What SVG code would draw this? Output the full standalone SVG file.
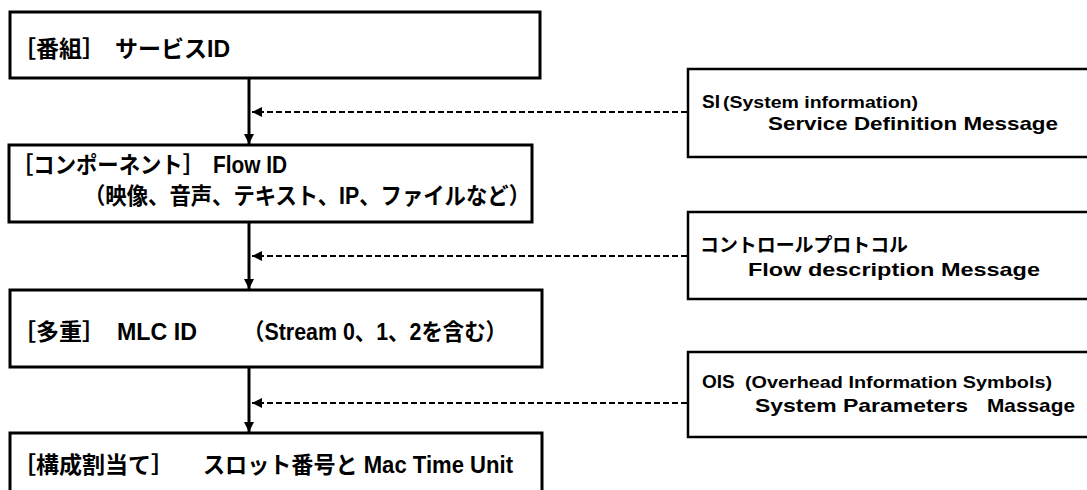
<svg xmlns="http://www.w3.org/2000/svg" width="1087" height="490" viewBox="0 0 1087 490">
<style>
.box{fill:#fff;stroke:#000;stroke-width:3}
.rbox{fill:#fff;stroke:#000;stroke-width:2.5}
.t{font-family:"Liberation Sans","Noto Sans CJK JP",sans-serif;font-weight:bold;font-size:23px;fill:#000}
.r{font-family:"Liberation Sans","Noto Sans CJK JP",sans-serif;font-weight:bold;font-size:19px;fill:#000}
.s{font-family:"Liberation Sans","Noto Sans CJK JP",sans-serif;font-weight:bold;font-size:16px;fill:#000}
.flow{stroke:#000;stroke-width:3;fill:none}
.dash{stroke:#000;stroke-width:2;stroke-dasharray:6,3;fill:none}
</style>
<defs>
<marker id="ah" viewBox="0 0 10 10" refX="10" refY="5" markerWidth="10" markerHeight="10" markerUnits="userSpaceOnUse" orient="auto">
<path d="M0,0 L10,5 L0,10 Z" fill="#000"/>
</marker>
</defs>
<g id="connectors">
<line class="flow" x1="249" y1="78" x2="249" y2="144" marker-end="url(#ah)"/>
<line class="flow" x1="249" y1="222" x2="249" y2="289" marker-end="url(#ah)"/>
<line class="flow" x1="249" y1="367" x2="249" y2="432" marker-end="url(#ah)"/>
<line class="dash" x1="687" y1="112" x2="252" y2="112" marker-end="url(#ah)"/>
<line class="dash" x1="687" y1="256" x2="252" y2="256" marker-end="url(#ah)"/>
<line class="dash" x1="687" y1="403" x2="252" y2="403" marker-end="url(#ah)"/>
</g>
<g id="node-program">
<rect class="box" x="10" y="12" width="530" height="66"/>
<text class="t" x="13" y="57">［番組］</text>
<text class="t" x="115" y="57" textLength="115" lengthAdjust="spacingAndGlyphs">サービスID</text>
</g>
<g id="node-component">
<rect class="box" x="9" y="145" width="523" height="77"/>
<text class="t" x="12" y="173" textLength="192" lengthAdjust="spacingAndGlyphs">［コンポーネント］</text>
<text class="t" x="213" y="173" textLength="74" lengthAdjust="spacingAndGlyphs">Flow ID</text>
<text class="t" x="84" y="204" textLength="446" lengthAdjust="spacingAndGlyphs">（映像、音声、テキスト、IP、ファイルなど）</text>
</g>
<g id="node-multiplex">
<rect class="box" x="10" y="290" width="532" height="77"/>
<text class="t" x="13" y="340">［多重］</text>
<text class="t" x="117" y="340" textLength="80" lengthAdjust="spacingAndGlyphs">MLC ID</text>
<text class="t" x="243" y="340" textLength="264" lengthAdjust="spacingAndGlyphs">（Stream 0、1、2を含む）</text>
</g>
<g id="node-allocation">
<rect class="box" x="10" y="433" width="532" height="70"/>
<text class="t" x="13" y="473">［構成割当て］</text>
<text class="t" x="203" y="473" textLength="310" lengthAdjust="spacingAndGlyphs">スロット番号と Mac Time Unit</text>
</g>
<g id="node-si">
<rect class="rbox" x="688" y="69" width="410" height="88"/>
<text class="r" x="702" y="108">SI</text>
<text class="s" x="723" y="108" textLength="195" lengthAdjust="spacingAndGlyphs">(System information)</text>
<text class="r" x="768" y="130" textLength="290" lengthAdjust="spacingAndGlyphs">Service Definition Message</text>
</g>
<g id="node-control">
<rect class="rbox" x="688" y="212" width="410" height="87"/>
<text class="r" x="700" y="252" textLength="208" lengthAdjust="spacingAndGlyphs">コントロールプロトコル</text>
<text class="r" x="748" y="276" textLength="292" lengthAdjust="spacingAndGlyphs">Flow description Message</text>
</g>
<g id="node-ois">
<rect class="rbox" x="688" y="352" width="410" height="85"/>
<text class="r" x="702" y="388">OIS</text>
<text class="s" x="745" y="388" textLength="307" lengthAdjust="spacingAndGlyphs">(Overhead Information Symbols)</text>
<text class="r" y="412"><tspan x="755" textLength="213" lengthAdjust="spacingAndGlyphs">System Parameters</tspan> <tspan x="987" textLength="88" lengthAdjust="spacingAndGlyphs">Massage</tspan></text>
</g>
</svg>
